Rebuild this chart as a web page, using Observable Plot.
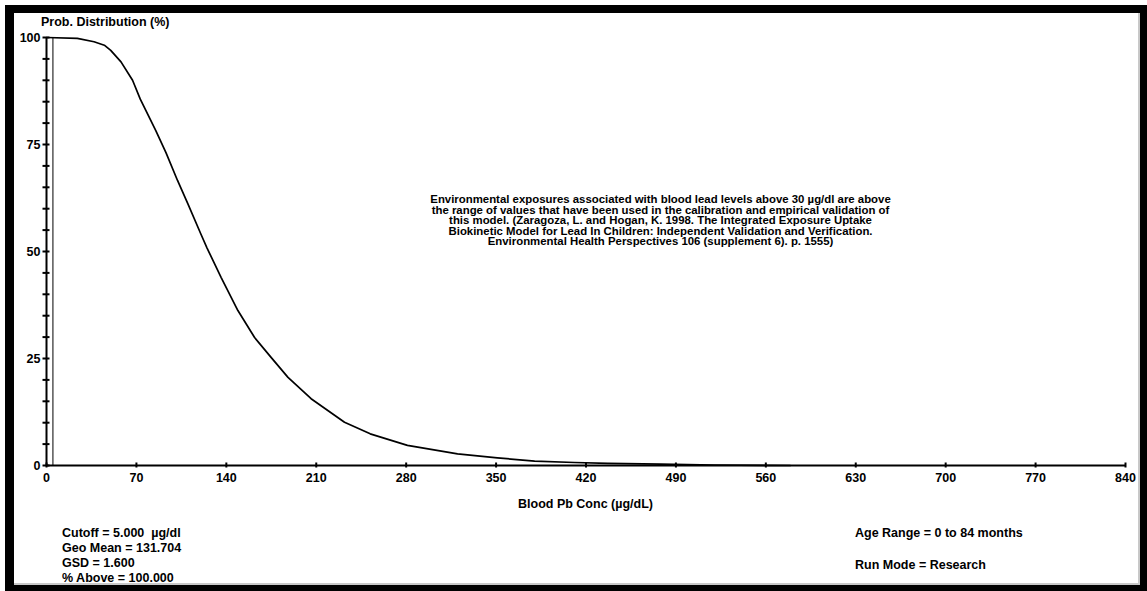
<!DOCTYPE html>
<html>
<head>
<meta charset="utf-8">
<script src="https://cdn.jsdelivr.net/npm/d3@7"></script>
<script src="https://cdn.jsdelivr.net/npm/@observablehq/plot@0.6"></script>
<style>
  html, body { margin: 0; padding: 0; background: #fff; }
  #wrap { position: relative; width: 1147px; height: 591px; overflow: hidden; background: #fff;
          font-family: "Liberation Sans", Arial, sans-serif; font-weight: bold; color: #000; }
  #chart { position: absolute; left: 0; top: 0; }
  .t { position: absolute; white-space: pre; font-size: 12.5px; line-height: 15px; }
  #frame { position: absolute; left: 5px; top: 5px; width: 1142px; height: 586px; box-sizing: border-box;
           border-style: solid; border-color: #000; border-width: 8px 7px 6px 9px; pointer-events: none; }
  #inner { position: absolute; left: 0; top: 0; right: 0; bottom: 0; border-right: 2px solid #c8c8c8;
           border-bottom: 2px solid #c8c8c8; }
</style>
</head>
<body>
<div id="wrap">
  <div id="chart"></div>
  <div class="t" style="left:41px; top:15px;">Prob. Distribution (%)</div>
  <div class="t" style="left:0; width:1171px; text-align:center; top:497px;">Blood Pb Conc (µg/dL)</div>
  <div class="t" style="left:62px; top:526px;">Cutoff = 5.000  µg/dl
Geo Mean = 131.704
GSD = 1.600
% Above = 100.000</div>
  <div class="t" style="left:855px; top:526px;">Age Range = 0 to 84 months</div>
  <div class="t" style="left:855px; top:558px;">Run Mode = Research</div>
  <div id="frame"><div id="inner"></div></div>
</div>
<script>
// Blood Pb concentration (µg/dL)
const conc = [0, 24, 37, 45, 50, 58, 67, 73, 85, 93, 102, 110, 120, 125, 136, 149, 162, 175, 188, 206, 232, 252, 281, 320, 351, 380, 411, 437, 478, 520, 579];
// Probability distribution (% above)
const prob = [100, 99.8, 99.0, 98.2, 97.0, 94.3, 90.0, 85.6, 78.3, 73.1, 66.6, 61.2, 54.2, 50.8, 43.9, 36.2, 29.9, 25.2, 20.6, 15.6, 10.1, 7.4, 4.7, 2.7, 1.8, 1.0, 0.7, 0.5, 0.3, 0.12, 0];
const cutoff = [5];
const xTicks = [0, 70, 140, 210, 280, 350, 420, 490, 560, 630, 700, 770, 840];
const yMajor = [0, 25, 50, 75, 100];
const yMinor = d3.range(0, 101, 5);
const note = "Environmental exposures associated with blood lead levels above 30 µg/dl are above\nthe range of values that have been used in the calibration and empirical validation of\nthis model. (Zaragoza, L. and Hogan, K. 1998. The Integrated Exposure Uptake\nBiokinetic Model for Lead In Children: Independent Validation and Verification.\nEnvironmental Health Perspectives 106 (supplement 6). p. 1555)";
const notePos = {x: 478, y: 57.2};

const data = conc.map((c, i) => ({c, p: prob[i]}));

const chart = Plot.plot({
  width: 1147,
  height: 591,
  marginLeft: 46,
  marginRight: 22,
  marginTop: 37,
  marginBottom: 126,
  style: {fontFamily: "'Liberation Sans', Arial, sans-serif", fontWeight: "bold", fontSize: "12.5px", color: "#000", background: "transparent"},
  x: {domain: [0, 840], label: null},
  y: {domain: [0, 100], label: null},
  marks: [
    Plot.ruleX(cutoff, {stroke: "#000", strokeWidth: 1}),
    Plot.line(data, {x: "c", y: "p", stroke: "#000", strokeWidth: 1.7}),
    Plot.ruleY([0], {stroke: "#000", strokeWidth: 2}),
    Plot.ruleX([0], {stroke: "#000", strokeWidth: 2}),
    Plot.axisY({ticks: yMinor, tickSize: 7, dx: 3.5, fill: "none", strokeWidth: 2, label: null}),
    Plot.axisY({ticks: yMajor, tickSize: 0, tickPadding: 6, tickFormat: d => String(d), label: null}),
    Plot.axisX({ticks: xTicks, tickSize: 5, dy: -2.5, fill: "none", strokeWidth: 2, label: null}),
    Plot.axisX({ticks: xTicks, tickSize: 0, tickPadding: 8, tickFormat: d => String(d), label: null}),
    Plot.text([notePos], {x: "x", y: "y", text: () => note, textAnchor: "middle", lineAnchor: "middle", lineHeight: 0.92, fontSize: 11.4, fill: "#000"})
  ]
});
document.getElementById("chart").appendChild(chart);
</script>
</body>
</html>
